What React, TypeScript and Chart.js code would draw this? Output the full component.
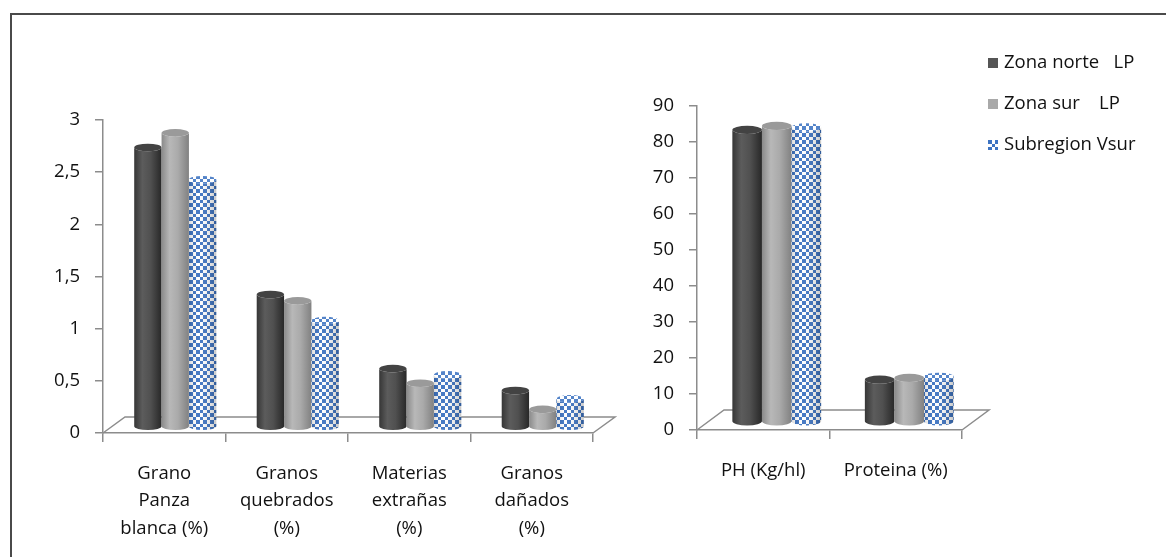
import React, { useEffect, useRef } from 'react';
import { Chart, registerables } from 'chart.js';

Chart.register(...registerables);

// ---------- data ----------
const leftCategories = [
  ['Grano', 'Panza', 'blanca (%)'],
  ['Granos', 'quebrados', '(%)'],
  ['Materias', 'extrañas', '(%)'],
  ['Granos', 'dañados', '(%)'],
];
const rightCategories = ['PH (Kg/hl)', 'Proteina (%)'];
const seriesNames = ['Zona norte   LP', 'Zona sur    LP', 'Subregion Vsur'];

const leftNorte = [2.66, 1.25, 0.54, 0.33];
const leftSur = [2.8, 1.19, 0.4, 0.15];
const leftVsur = [2.35, 1.0, 0.48, 0.25];

const rightNorte = [80.6, 11.2];
const rightSur = [81.7, 11.7];
const rightVsur = [81.3, 12.0];

const leftTicks = [0, 0.5, 1, 1.5, 2, 2.5, 3];
const rightTicks = [0, 10, 20, 30, 40, 50, 60, 70, 80, 90];

// ---------- helpers ----------
const FONT = "'Open Sans', 'Noto Sans', sans-serif";
const AXIS = '#8c8c8c';
const TEXT = '#111111';
const BLUE = '#3d73c2';

function makePattern(): CanvasPattern | string {
  const c = document.createElement('canvas');
  c.width = 7;
  c.height = 7;
  const g = c.getContext('2d');
  if (!g) return BLUE;
  g.fillStyle = BLUE;
  g.fillRect(0, 0, 7, 7);
  g.fillStyle = '#ffffff';
  g.fillRect(4, 0, 3, 4);
  g.fillRect(0, 4, 4, 3);
  const p = g.createPattern(c, 'repeat');
  return p || BLUE;
}

const shades: Record<number, { stops: [number, string][]; top: string }> = {
  0: {
    stops: [[0, '#363636'], [0.3, '#5c5c5c'], [0.6, '#505050'], [1, '#282828']],
    top: '#434343',
  },
  1: {
    stops: [[0, '#8a8a8a'], [0.3, '#b8b8b8'], [0.6, '#aaaaaa'], [1, '#818181']],
    top: '#9a9a9a',
  },
};

function drawCylinder(
  ctx: CanvasRenderingContext2D,
  cx: number,
  top: number,
  bottom: number,
  w: number,
  kind: number,
  pattern: CanvasPattern | string
) {
  const rx = w / 2;
  const ry = Math.max(2, w * 0.14);
  const l = cx - rx;
  const r = cx + rx;
  ctx.save();
  ctx.beginPath();
  ctx.moveTo(l, top);
  ctx.lineTo(l, bottom);
  ctx.ellipse(cx, bottom, rx, ry, 0, Math.PI, 0, true);
  ctx.lineTo(r, top);
  ctx.ellipse(cx, top, rx, ry, 0, 0, Math.PI, false);
  ctx.closePath();
  if (kind === 2) {
    ctx.fillStyle = pattern as any;
    ctx.fill();
    const g = ctx.createLinearGradient(l, 0, r, 0);
    g.addColorStop(0, 'rgba(0,0,0,0.15)');
    g.addColorStop(0.35, 'rgba(255,255,255,0.05)');
    g.addColorStop(1, 'rgba(0,0,0,0.22)');
    ctx.fillStyle = g;
    ctx.fill();
  } else {
    const g = ctx.createLinearGradient(l, 0, r, 0);
    shades[kind].stops.forEach(([o, c]) => g.addColorStop(o, c));
    ctx.fillStyle = g;
    ctx.fill();
  }
  ctx.beginPath();
  ctx.ellipse(cx, top, rx, ry, 0, 0, Math.PI * 2);
  if (kind === 2) {
    ctx.fillStyle = pattern as any;
    ctx.fill();
    ctx.fillStyle = 'rgba(255,255,255,0.12)';
    ctx.fill();
  } else {
    ctx.fillStyle = shades[kind].top;
    ctx.fill();
  }
  ctx.restore();
}

function makeConfig(opts: {
  labels: any[];
  series: number[][];
  ticks: number[];
  yWidth: number;
  xHeight: number;
  padTop: number;
  padRight: number;
  dx: number;
  dy: number;
  legend: boolean;
  pattern: CanvasPattern | string;
  legendX?: number;
  legendY?: number[];
}) {
  const { pattern, dx, dy } = opts;
  const colors = ['#555555', '#a9a9a9', pattern];
  const cylPlugin = {
    id: 'cyl',
    beforeDatasetsDraw(chart: any) {
      const ctx: CanvasRenderingContext2D = chart.ctx;
      const ca = chart.chartArea;
      ctx.save();
      ctx.strokeStyle = AXIS;
      ctx.lineWidth = 1.5;
      ctx.beginPath();
      ctx.moveTo(ca.left, ca.bottom);
      ctx.lineTo(ca.left + dx, ca.bottom - dy);
      ctx.lineTo(ca.right + dx, ca.bottom - dy);
      ctx.lineTo(ca.right, ca.bottom);
      ctx.stroke();
      ctx.restore();
      chart.data.datasets.forEach((_: any, i: number) => {
        const meta = chart.getDatasetMeta(i);
        meta.data.forEach((el: any) => {
          const p = el.getProps(['x', 'y', 'base', 'width'], true);
          drawCylinder(ctx, p.x + dx / 2, p.y - dy / 2, p.base - dy / 2 + 2, p.width, i, pattern);
        });
      });
      return false;
    },
  };
  const legendPlugin = {
    id: 'customLegend',
    afterDraw(chart: any) {
      if (!opts.legend) return;
      const ctx: CanvasRenderingContext2D = chart.ctx;
      ctx.save();
      ctx.font = `18.5px ${FONT}`;
      ctx.textBaseline = 'middle';
      ctx.textAlign = 'left';
      chart.data.datasets.forEach((ds: any, i: number) => {
        const y = (opts.legendY as number[])[i];
        const x = opts.legendX as number;
        ctx.fillStyle = i === 2 ? (pattern as any) : i === 0 ? '#555555' : '#a9a9a9';
        ctx.save();
        ctx.translate(x, y - 5);
        ctx.fillRect(0, 0, 10, 10);
        ctx.restore();
        ctx.fillStyle = TEXT;
        ctx.fillText(ds.label, x + 16, y);
      });
      ctx.restore();
    },
  };
  return {
    type: 'bar' as const,
    data: {
      labels: opts.labels,
      datasets: opts.series.map((d, i) => ({
        label: seriesNames[i],
        data: d,
        backgroundColor: colors[i],
        borderWidth: 0,
        categoryPercentage: 0.67,
        barPercentage: 1,
      })),
    },
    options: {
      animation: false,
      responsive: false,
      maintainAspectRatio: false,
      layout: { padding: { top: opts.padTop, right: opts.padRight, left: 0, bottom: 0 } },
      plugins: {
        legend: { display: false },
        tooltip: { enabled: false },
      },
      scales: {
        x: {
          afterFit: (s: any) => {
            s.height = opts.xHeight;
          },
          grid: {
            offset: true,
            drawOnChartArea: false,
            drawTicks: true,
            tickLength: 9,
            color: AXIS,
            lineWidth: 1.5,
          },
          border: { display: true, color: AXIS, width: 1.5 },
          ticks: {
            color: TEXT,
            padding: 18,
            maxRotation: 0,
            autoSkip: false,
            font: { family: FONT, size: 18.5, lineHeight: 1.48 },
          },
        },
        y: {
          min: opts.ticks[0],
          max: opts.ticks[opts.ticks.length - 1],
          afterFit: (s: any) => {
            s.width = opts.yWidth;
          },
          afterBuildTicks: (s: any) => {
            s.ticks = opts.ticks.map((v) => ({ value: v }));
          },
          grid: {
            drawOnChartArea: false,
            drawTicks: true,
            tickLength: 8,
            color: AXIS,
            lineWidth: 1.5,
          },
          border: { display: true, color: AXIS, width: 1.5 },
          ticks: {
            color: TEXT,
            padding: 15,
            font: { family: FONT, size: 18.5 },
            callback: (v: any) => String(v).replace('.', ','),
          },
        },
      },
    },
    plugins: [cylPlugin, legendPlugin],
  };
}

export default function App() {
  const leftRef = useRef<HTMLCanvasElement>(null);
  const rightRef = useRef<HTMLCanvasElement>(null);

  useEffect(() => {
    const pattern = makePattern();
    const left = new Chart(
      leftRef.current as HTMLCanvasElement,
      makeConfig({
        labels: leftCategories,
        series: [leftNorte, leftSur, leftVsur],
        ticks: leftTicks,
        yWidth: 103,
        xHeight: 557 - 433,
        padTop: 120,
        padRight: 620 - 593,
        dx: 22,
        dy: 16,
        legend: false,
        pattern,
      }) as any
    );
    const right = new Chart(
      rightRef.current as HTMLCanvasElement,
      makeConfig({
        labels: rightCategories,
        series: [rightNorte, rightSur, rightVsur],
        ticks: rightTicks,
        yWidth: 697 - 620,
        xHeight: 557 - 430,
        padTop: 106,
        padRight: 546 - (962 - 620),
        dx: 27,
        dy: 20,
        legend: true,
        legendX: 988 - 620,
        legendY: [63, 104, 145],
        pattern,
      }) as any
    );
    return () => {
      left.destroy();
      right.destroy();
    };
  }, []);

  return (
    <div
      style={{
        position: 'fixed',
        left: 0,
        top: 0,
        width: 1166,
        height: 557,
        background: '#ffffff',
        overflow: 'hidden',
      }}
    >
      <div
        style={{
          position: 'absolute',
          left: 10,
          top: 13,
          width: 1200,
          height: 600,
          borderLeft: '2px solid #4a4a4a',
          borderTop: '2px solid #4a4a4a',
        }}
      />
      <canvas
        ref={leftRef}
        width={620}
        height={557}
        style={{ position: 'absolute', left: 0, top: 0, width: 620, height: 557 }}
      />
      <canvas
        ref={rightRef}
        width={546}
        height={557}
        style={{ position: 'absolute', left: 620, top: 0, width: 546, height: 557 }}
      />
    </div>
  );
}
